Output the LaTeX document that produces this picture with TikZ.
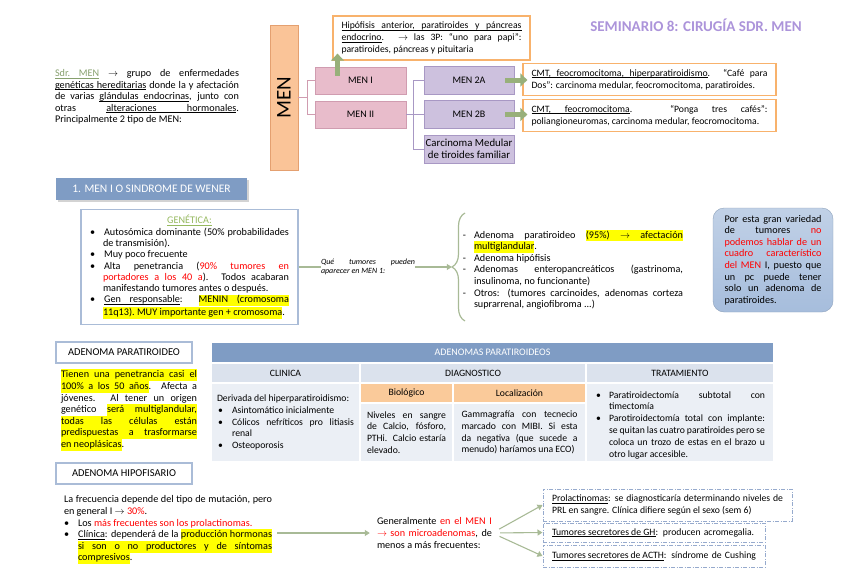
\documentclass[tikz,border=0pt]{standalone}
\usepackage{fontspec}
\setmainfont{Carlito}
\usetikzlibrary{arrows.meta,decorations.pathreplacing,shadows}

\definecolor{menorange}{RGB}{250,196,152}
\definecolor{menorangeline}{RGB}{228,160,112}
\definecolor{noteorange}{RGB}{248,178,108}
\definecolor{menpink}{RGB}{232,188,203}
\definecolor{menpinkline}{RGB}{208,156,176}
\definecolor{menlilac}{RGB}{205,193,222}
\definecolor{menlilacline}{RGB}{168,152,196}
\definecolor{arrowgreen}{RGB}{152,176,122}
\definecolor{linkgreen}{RGB}{168,186,150}
\definecolor{titlepurple}{RGB}{172,148,218}
\definecolor{hdrblue}{RGB}{127,156,196}
\definecolor{rowblue}{RGB}{219,226,237}
\definecolor{cellblue}{RGB}{235,239,245}
\definecolor{cellorange}{RGB}{250,202,154}
\definecolor{frameblue}{RGB}{170,188,215}
\definecolor{notesky}{RGB}{166,189,220}
\definecolor{dotblue}{RGB}{150,170,205}
\definecolor{gengreen}{RGB}{150,185,95}
\definecolor{sdrgreen}{RGB}{135,160,110}
\definecolor{hiliyellow}{RGB}{255,255,0}

\hyphenpenalty=10000
\tolerance=10000

\newcommand{\bodytxt}{\fontsize{10.2}{11.6}\selectfont}
\newcommand{\smalltxt}{\fontsize{9.7}{11.8}\selectfont}

% underline and highlight, word by word
\makeatletter
\newcommand{\wordglue}{\hskip\fontdimen2\font plus\fontdimen3\font minus\fontdimen4\font}
\newcommand{\ulinword}[1]{\setbox0\hbox{#1}\rlap{\vrule height -1.1pt depth 1.7pt width\wd0}\box0\relax}
\newcommand{\ulinspace}{\leaders\vrule height -1.1pt depth 1.7pt\wordglue}
\def\ulin@loop#1 #2\@nil{\ulinword{#1}\ifx\relax#2\relax\else\ulinspace\ulin@loop#2\@nil\fi}
\newcommand{\ulin}[1]{\leavevmode\ulin@loop#1 \@nil}
\newcommand{\hiliword}[1]{\setbox0\hbox{#1}\rlap{\textcolor{hiliyellow}{\vrule height 8.4pt depth 3.2pt width\wd0}}\box0\relax}
\newcommand{\hilispace}{{\color{hiliyellow}\leaders\vrule height 8.4pt depth 3.2pt\wordglue}}
\def\hili@loop#1 #2\@nil{\hiliword{#1}\ifx\relax#2\relax\else\hilispace\hili@loop#2\@nil\fi}
\newcommand{\hili}[1]{\leavevmode\hili@loop#1 \@nil}
\makeatother

% compact list with given label, margin and label gap
\newenvironment{dotlist}[3]{\list{#1}{\leftmargin=#2\labelsep=#3%
    \labelwidth=\leftmargin\advance\labelwidth by -\labelsep
    \topsep=0pt\partopsep=0pt\parsep=0pt\itemsep=0pt}}{\endlist}

\tikzset{
    title text/.style={font=\fontsize{15}{18}\selectfont\bfseries, text=titlepurple},
    plain text/.style={inner sep=0pt, align=justify, font=\bodytxt},
    men bar/.style={draw=menorangeline, fill=menorange, minimum width=28pt,
                    minimum height=145pt, inner sep=0pt},
    men one/.style={draw=menpinkline, fill=menpink, minimum width=91pt,
                    minimum height=27pt, inner sep=0pt, font=\fontsize{10}{12}\selectfont},
    men two/.style={draw=menlilacline, fill=menlilac, minimum width=90pt,
                    minimum height=28pt, inner sep=0pt, font=\fontsize{10}{12}\selectfont},
    men note/.style={draw=noteorange, line width=1.3pt, fill=white, inner xsep=8.5pt,
                     inner ysep=0pt, align=justify, font=\smalltxt},
    men link/.style={line width=1pt},
    fat arrow/.style={draw=arrowgreen, line width=5pt,
                      -{Triangle[length=7pt,width=13pt]}},
    thin arrow/.style={draw=linkgreen, line width=1.1pt,
                       -{Triangle[length=5pt,width=6pt]}},
    sec head/.style={fill=hdrblue, text=white, minimum width=191pt, minimum height=22pt,
                     font=\fontsize{11.5}{13}\selectfont,
                     drop shadow={opacity=0.35, shadow xshift=1.5pt, shadow yshift=-1.5pt}},
    sub head/.style={draw=frameblue, line width=1.3pt, fill=white, minimum width=136pt,
                     minimum height=21pt, font=\fontsize{10.5}{12}\selectfont},
    gen box/.style={draw=frameblue, line width=1.2pt, fill=white, inner xsep=9pt,
                    inner ysep=0pt, align=justify, font=\fontsize{10.2}{11.3}\selectfont},
    sky note/.style={draw=notesky!85!black, rounded corners=11pt, top color=notesky!70!white,
                     bottom color=notesky, inner xsep=11.5pt, inner ysep=0pt,
                     align=justify, font=\bodytxt},
    tab cell/.style={draw=white, line width=1.5pt, inner sep=0pt, font=\smalltxt},
    tab head/.style={tab cell, fill=hdrblue, text=white, font=\fontsize{10}{12}\selectfont},
    tab col/.style={tab cell, fill=rowblue},
    tab sub/.style={tab cell, fill=cellorange},
    tab body/.style={tab cell, fill=cellblue, align=justify},
    dash box/.style={draw=dotblue, line width=1pt,
                     dash pattern=on 4pt off 1.5pt on 1pt off 1.5pt,
                     inner xsep=9pt, inner ysep=0pt, font=\smalltxt},
}

\begin{document}
\begin{tikzpicture}[x=1pt,y=-1pt]
    \useasboundingbox (0,0) rectangle (848,587);

    % Title and introduction
    \node[title text] (title) at (696,25) {SEMINARIO 8: CIRUGÍA SDR. MEN};
    \node[plain text, text width=184pt] (intro) at (147,97)
        {\textcolor{sdrgreen}{\ulin{Sdr. MEN}} $\rightarrow$ grupo de enfermedades
         \ulin{genéticas hereditarias} donde la y afectación de varias
         \ulin{glándulas endocrinas}, junto con\linebreak otras \ulin{alteraciones hormonales}.\linebreak
         Principalmente 2 tipo de MEN:};

    % MEN tree
    \node[men bar, label={[rotate=90, font=\fontsize{21}{24}\selectfont]center:MEN}] (men) at (284,97.5) {};
    \node[men one] (men1) at (360.5,80.5) {MEN I};
    \node[men one] (men2) at (360.5,114.5) {MEN II};
    \node[men two] (men2a) at (469,80) {MEN 2A};
    \node[men two] (men2b) at (469,114.5) {MEN 2B};
    \node[men two, align=center, font=\fontsize{10.8}{12.5}\selectfont] (carc) at (469,149)
        {Carcinoma Medular\\de tiroides familiar};
    \draw[men link, draw=menpinkline] (men.east) -| ([xshift=-7pt]men1.west) -- (men1.west);
    \draw[men link, draw=menpinkline] (men.east) -| ([xshift=-7pt]men2.west) -- (men2.west);
    \draw[men link, draw=menlilacline] (men2.east) -| ([xshift=-10pt]men2a.west) -- (men2a.west);
    \draw[men link, draw=menlilacline] (men2.east) -| ([xshift=-10pt]carc.west) -- (carc.west);
    \draw[men link, draw=menlilacline] (men2.east) -- (men2b.west);

    % Notes on each type
    \node[men note, text width=180pt, minimum height=44pt] (hipo) at (431.5,38)
        {\ulin{Hipófisis anterior, paratiroides y páncreas endocrino}. $\rightarrow$ las 3P:
         “uno para papi”: paratiroides, páncreas y pituitaria};
    \node[men note, text width=236pt, minimum height=32pt] (cmt1) at (649.5,79.5)
        {\ulin{CMT, feocromocitoma, hiperparatiroidismo}. “Café para Dos”: carcinoma
         medular, feocromocitoma, paratiroides.};
    \node[men note, text width=236pt, minimum height=32pt] (cmt2) at (649.5,115.5)
        {\ulin{CMT, feocromocitoma}. “Ponga tres cafés”: poliangioneuromas, carcinoma
         medular, feocromocitoma.};
    \draw[fat arrow] ([xshift=-23pt,yshift=-9pt]men1.north) -- ([xshift=-23pt,yshift=7pt]men1.north |- hipo.south);
    \draw[fat arrow] ([xshift=-9pt]men2a.east) -- ([xshift=5pt]cmt1.west |- men2a.east);
    \draw[fat arrow] ([xshift=-9pt]men2b.east) -- ([xshift=5pt]cmt2.west |- men2b.east);

    % MEN I block
    \node[sec head] (sec1) at (151.5,189) {1. MEN I O SINDROME DE WENER};
    \node[gen box, text width=199pt, minimum height=115pt] (genetica) at (189.5,267)
        {{\centering\textcolor{gengreen}{\ulin{GENÉTICA:}}\par}
         \begin{dotlist}{\textbullet}{13pt}{9pt}
         \item Autosómica dominante (50\% probabilidades de transmisión).
         \item Muy poco frecuente
         \item Alta penetrancia (\textcolor{red}{90\% tumores en portadores a los 40 a}).
               Todos acabaran manifestando tumores antes o después.
         \item \ulin{Gen responsable}: \hili{MENIN (cromosoma 11q13). MUY importante gen + cromosoma}.
         \end{dotlist}};
    \node[plain text, text width=94pt, font=\fontsize{8}{9.5}\selectfont\itshape] (que) at (368,267)
        {Qué tumores pueden aparecer en MEN 1:};
    \node[plain text, text width=221pt] (tumores) at (572.5,268)
        {\begin{dotlist}{-}{12pt}{8pt}
         \item Adenoma paratiroideo \hili{(95\%) $\rightarrow$ afectación multiglandular}.
         \item Adenoma hipófisis
         \item Adenomas enteropancreáticos (gastrinoma, insulinoma, no funcionante)
         \item Otros: (tumores carcinoides, adenomas corteza suprarrenal, angiofibroma ...)
         \end{dotlist}};
    \coordinate (bracetip) at ([xshift=-10pt]tumores.west |- genetica.east);
    \draw[linkgreen, line width=1.2pt, decorate, decoration={brace, amplitude=13pt}]
        (465,321) -- (465,213);
    \draw[draw=linkgreen, line width=1.1pt] (genetica.east) -- (que.west |- genetica.east);
    \draw[thin arrow] (que.east |- genetica.east) -- (bracetip);
    \node[sky note, text width=97pt, minimum height=104pt] (noteone) at (773,260)
        {Por esta gran variedad de tumores \textcolor{red}{no podemos hablar de un cuadro
         característico del MEN} I, puesto que un pc puede tener solo un adenoma de paratiroides.};

    % Adenoma paratiroideo
    \node[sub head] (parahead) at (124,352.5) {ADENOMA PARATIROIDEO};
    \node[plain text, text width=136pt] (parapara) at (129,410)
        {\hili{Tienen una penetrancia casi el}\linebreak\hili{100\% a los 50 años}. Afecta a\linebreak
         jóvenes. Al tener un origen genético \hili{será multiglandular, todas las células están
         predispuestas a trasformarse en neoplásicas}.};

    % Table
    \node[tab head, minimum width=563pt, minimum height=21pt] (thead) at (492.5,352.5) {ADENOMAS PARATIROIDEOS};
    \node[tab col, minimum width=149pt, minimum height=20pt] (clinh) at (285.5,373) {CLINICA};
    \node[tab col, minimum width=226pt, minimum height=20pt] (diagh) at (473,373) {DIAGNOSTICO};
    \node[tab col, minimum width=188pt, minimum height=20pt] (trath) at (680,373) {TRATAMIENTO};
    \node[tab sub, minimum width=93pt, minimum height=20pt] (bioh) at (406.5,393) {Biológico};
    \node[tab sub, minimum width=133pt, minimum height=20pt] (loch) at (519.5,393) {Localización};
    \node[tab body, text width=137pt, inner xsep=6pt, minimum height=79pt] (clinb) at (285.5,422.5)
        {Derivada del hiperparatiroidismo:
         \begin{dotlist}{\textbullet}{15pt}{9pt}
         \item Asintomático inicialmente
         \item Cólicos nefríticos pro litiasis renal
         \item Osteoporosis
         \end{dotlist}\vspace{9pt}};
    \node[tab body, text width=79pt, inner xsep=7pt, minimum height=59pt] (biob) at (406.5,432.5)
        {Niveles en sangre de Calcio, fósforo, PTHi. Calcio estaría elevado.};
    \node[tab body, text width=116pt, inner xsep=8.5pt, minimum height=59pt] (locb) at (519.5,432.5)
        {Gammagrafía con tecnecio marcado con MIBI. Si esta da negativa (que sucede a
         menudo) haríamos una ECO)};
    \node[tab body, text width=170pt, inner xsep=9pt, minimum height=79pt] (tratb) at (680,422.5)
        {\begin{dotlist}{\textbullet}{14pt}{8pt}
         \item Paratiroidectomía subtotal con timectomía
         \item Parotiroidectomía total con implante: se quitan las cuatro paratiroides pero
               se coloca un trozo de estas en el brazo u otro lugar accesible.
         \end{dotlist}};

    % Adenoma hipofisario
    \node[sub head] (hipohead) at (124,473.5) {ADENOMA HIPOFISARIO};
    \node[plain text, text width=208pt] (hipopara) at (168,530)
        {La frecuencia depende del tipo de mutación, pero en general I $\rightarrow$
         \textcolor{red}{30\%}.
         \begin{dotlist}{\textbullet}{14pt}{9pt}
         \item Los \textcolor{red}{más frecuentes son los prolactinomas.}
         \item \ulin{Clínica}: dependerá de la \hili{producción hormonas si son o no productores
               y de síntomas compresivos}.
         \end{dotlist}};
    \node[plain text, text width=115pt] (micro) at (434.5,533)
        {Generalmente \textcolor{red}{en el MEN I $\rightarrow$ son microadenomas}, de menos
         a más frecuentes:};
    \node[dash box, text width=231pt, minimum height=32pt, align=justify] (prol) at (667.5,505)
        {\ulin{Prolactinomas}: se diagnosticaría determinando niveles de PRL en sangre.
         Clínica difiere según el sexo (sem 6)};
    \node[dash box, text width=204pt, minimum height=19pt, align=left] (gh) at (654,532.5)
        {\ulin{Tumores secretores de GH}: producen acromegalia.};
    \node[dash box, text width=204pt, minimum height=22pt, align=left] (acth) at (654,556)
        {\ulin{Tumores secretores de ACTH}: síndrome de Cushing};
    \draw[thin arrow, shorten <=5pt, shorten >=7pt] (hipopara.east |- micro.west) -- (micro.west);
    \draw[thin arrow, shorten <=8pt] (micro.east) -- (prol.west);
    \draw[thin arrow, shorten <=8pt] (micro.east) -- (gh.west);
    \draw[thin arrow, shorten <=8pt] (micro.east) -- (acth.west);
\end{tikzpicture}
\end{document}
